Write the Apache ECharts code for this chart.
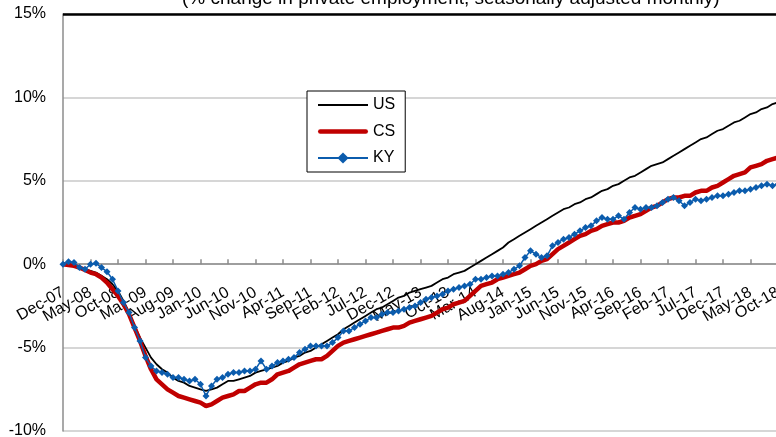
<!DOCTYPE html>
<html><head><meta charset="utf-8">
<script src="https://cdn.jsdelivr.net/npm/echarts@6/dist/echarts.min.js"></script>
<style>html,body{margin:0;padding:0;background:#fff}#c{width:776px;height:437px}</style>
</head><body><div id="c"></div>
<script>
const titleText = '(% change in private employment, seasonally adjusted monthly)';
const monthNames = ['Jan','Feb','Mar','Apr','May','Jun','Jul','Aug','Sep','Oct','Nov','Dec'];
// Dec-07 .. Dec-18 monthly
const categories = ['Dec-07'];
for (let y = 8; y <= 18; y++) {
  for (let m = 0; m < 12; m++) categories.push(monthNames[m] + '-' + (y < 10 ? '0' + y : y));
}
const labelEvery = 5;
const seriesNames = ['US', 'CS', 'KY'];
const usValues = [
  0.0, 0.0, -0.1, -0.2, -0.3, -0.4, -0.5, -0.7, -0.9, -1.2,
  -1.6, -2.2, -2.9, -3.7, -4.4, -5.0, -5.6, -6.0, -6.3, -6.5,
  -6.8, -7.0, -7.1, -7.3, -7.4, -7.5, -7.6, -7.5, -7.4, -7.2,
  -7.0, -7.0, -6.9, -6.8, -6.7, -6.5, -6.4, -6.3, -6.2, -6.1,
  -5.9, -5.8, -5.6, -5.5, -5.3, -5.2, -5.0, -4.8, -4.6, -4.4,
  -4.2, -3.9, -3.7, -3.5, -3.3, -3.1, -2.9, -2.7, -2.6, -2.4,
  -2.2, -2.0, -1.9, -1.7, -1.6, -1.5, -1.4, -1.3, -1.1, -0.9,
  -0.8, -0.6, -0.5, -0.4, -0.2, 0.0, 0.2, 0.4, 0.6, 0.8,
  1.0, 1.3, 1.5, 1.7, 1.9, 2.1, 2.3, 2.5, 2.7, 2.9,
  3.1, 3.3, 3.4, 3.6, 3.7, 3.9, 4.0, 4.2, 4.4, 4.5,
  4.7, 4.8, 5.0, 5.2, 5.3, 5.5, 5.7, 5.9, 6.0, 6.1,
  6.3, 6.5, 6.7, 6.9, 7.1, 7.3, 7.5, 7.6, 7.8, 8.0,
  8.1, 8.3, 8.5, 8.6, 8.8, 9.0, 9.1, 9.3, 9.4, 9.6,
  9.7, 9.8, 10.0
];
const csValues = [
  0.0, -0.05, -0.1, -0.2, -0.35, -0.5, -0.6, -0.8, -1.1, -1.5,
  -1.9, -2.4, -3.0, -3.8, -4.6, -5.5, -6.3, -6.9, -7.2, -7.5,
  -7.7, -7.9, -8.0, -8.1, -8.2, -8.3, -8.5, -8.4, -8.2, -8.0,
  -7.9, -7.8, -7.6, -7.6, -7.4, -7.2, -7.1, -7.1, -6.9, -6.6,
  -6.5, -6.4, -6.2, -6.0, -5.9, -5.8, -5.7, -5.7, -5.5, -5.2,
  -4.9, -4.7, -4.6, -4.5, -4.4, -4.3, -4.2, -4.1, -4.0, -3.9,
  -3.8, -3.8, -3.7, -3.5, -3.4, -3.3, -3.2, -3.1, -2.9, -2.7,
  -2.6, -2.4, -2.3, -2.2, -1.9, -1.6, -1.3, -1.2, -1.1, -0.9,
  -0.8, -0.7, -0.6, -0.5, -0.3, -0.1, 0.0, 0.2, 0.3, 0.6,
  0.9, 1.1, 1.3, 1.5, 1.7, 1.8, 2.0, 2.1, 2.3, 2.4,
  2.5, 2.5, 2.6, 2.8, 2.9, 3.0, 3.2, 3.4, 3.5, 3.7,
  3.9, 4.0, 4.0, 4.1, 4.1, 4.3, 4.4, 4.4, 4.6, 4.7,
  4.9, 5.1, 5.3, 5.4, 5.5, 5.8, 5.9, 6.0, 6.2, 6.3,
  6.4, 6.5, 6.6
];
const kyValues = [
  0.0, 0.15, 0.1, -0.2, -0.3, 0.0, 0.05, -0.2, -0.45, -0.9,
  -1.6, -2.3, -2.9, -3.8, -4.6, -5.6, -6.1, -6.4, -6.5, -6.6,
  -6.8, -6.8, -6.9, -7.0, -6.9, -7.2, -7.9, -7.3, -6.9, -6.8,
  -6.6, -6.5, -6.5, -6.4, -6.4, -6.3, -5.8, -6.3, -6.1, -5.9,
  -5.8, -5.7, -5.6, -5.3, -5.1, -4.9, -4.9, -4.9, -4.9, -4.7,
  -4.4, -4.0, -4.0, -3.8, -3.6, -3.4, -3.2, -3.2, -3.0, -2.9,
  -2.9, -2.8, -2.7, -2.6, -2.5, -2.3, -2.1, -2.0, -1.9, -1.8,
  -1.6, -1.5, -1.4, -1.3, -1.2, -0.9, -0.9, -0.8, -0.7, -0.7,
  -0.6, -0.5, -0.3, -0.1, 0.4, 0.8, 0.6, 0.4, 0.5, 1.1,
  1.3, 1.5, 1.6, 1.8, 2.0, 2.2, 2.3, 2.6, 2.8, 2.7,
  2.7, 2.9, 2.7, 3.1, 3.4, 3.3, 3.4, 3.4, 3.5, 3.7,
  3.9, 4.0, 3.8, 3.5, 3.7, 3.9, 3.8, 3.9, 4.0, 4.1,
  4.1, 4.2, 4.3, 4.4, 4.4, 4.5, 4.6, 4.7, 4.8, 4.7,
  4.8, 4.9, 4.9
];
const yMin = -10, yMax = 15, yStep = 5;

const FONT = 'Liberation Sans';
const GRID_TOP = 14, GRID_BOTTOM = 6, GRID_LEFT = 63, GRID_RIGHT = -13;
const H = 437;
const plotH = H - GRID_TOP - GRID_BOTTOM;
const zeroY = GRID_TOP + plotH * (yMax - 0) / (yMax - yMin);

const chart = echarts.init(document.getElementById('c'), null, {renderer: 'canvas'});
chart.setOption({
  animation: false,
  backgroundColor: '#fff',
  textStyle: {fontFamily: FONT},
  title: {
    text: titleText, left: 177, top: -16,
    textStyle: {fontFamily: FONT, fontSize: 19, fontWeight: 'normal', color: '#000'}
  },
  grid: [
    {left: GRID_LEFT, right: GRID_RIGHT, top: GRID_TOP, bottom: GRID_BOTTOM, containLabel: false, outerBoundsMode: 'none'},
    {left: GRID_LEFT, right: GRID_RIGHT, top: GRID_TOP, bottom: H - zeroY, containLabel: false, outerBoundsMode: 'none'}
  ],
  legend: {
    orient: 'vertical', left: 307, top: 91,
    data: [
      {name: seriesNames[0], icon: 'path://M0,0h50v1.8h-50z'},
      {name: seriesNames[1], icon: 'path://M2.25,0h45.5a2.25,2.25 0 0 1 0,4.5h-45.5a2.25,2.25 0 0 1 0,-4.5z'},
      {name: seriesNames[2]}
    ],
    itemWidth: 50, itemHeight: 14, itemGap: 10.5,
    padding: [6, 10, 6, 10],
    backgroundColor: '#fff', borderColor: '#000', borderWidth: 1, borderRadius: 0,
    textStyle: {fontFamily: FONT, fontSize: 16, color: '#000', lineHeight: 16}
  },
  xAxis: [
    {
      type: 'category', data: categories, boundaryGap: false, gridIndex: 0, show: false
    },
    {
      type: 'category', data: categories, boundaryGap: false, gridIndex: 1,
      axisLine: {onZero: false, lineStyle: {color: '#8c8c8c', width: 1.5}},
      axisTick: {show: true, inside: true, length: 5, interval: labelEvery - 1, lineStyle: {color: '#8c8c8c', width: 1.5}},
      axisLabel: {
        interval: 0, hideOverlap: false, rotate: 30, margin: 27,
        formatter: (v, i) => (i % labelEvery === 0 ? v : ''),
        color: '#000', fontFamily: FONT, fontSize: 16
      },
      splitLine: {show: false}, z: 1
    }
  ],
  yAxis: [
    {
      type: 'value', min: yMin, max: yMax, interval: yStep, gridIndex: 0,
      axisLine: {show: true, onZero: false, lineStyle: {color: '#8c8c8c', width: 1.5}},
      axisTick: {show: false},
      axisLabel: {formatter: v => v + '%', color: '#000', fontFamily: FONT, fontSize: 16, margin: 17},
      splitLine: {show: true, lineStyle: {color: '#c8c8c8', width: 1.5}}
    },
    {
      type: 'value', min: 0, max: 1, gridIndex: 1, show: false, splitLine: {show: false}
    }
  ],
  series: [
    {
      name: seriesNames[0], type: 'line', data: usValues, symbol: 'none',
      xAxisIndex: 0, yAxisIndex: 0,
      lineStyle: {color: '#000', width: 1.8}, itemStyle: {color: '#000'},
      markLine: {
        silent: true, symbol: 'none', label: {show: false},
        lineStyle: {color: '#000', width: 2.5, type: 'solid'},
        data: [{yAxis: yMax}]
      },
      z: 2
    },
    {
      name: seriesNames[1], type: 'line', data: csValues, symbol: 'none',
      xAxisIndex: 0, yAxisIndex: 0,
      lineStyle: {color: '#c00000', width: 4.5}, itemStyle: {color: '#c00000'}, z: 3
    },
    {
      name: seriesNames[2], type: 'line', data: kyValues, symbol: 'diamond', symbolSize: 7,
      xAxisIndex: 0, yAxisIndex: 0, showAllSymbol: true,
      lineStyle: {color: '#0b5cad', width: 1.5}, itemStyle: {color: '#0b5cad'}, z: 4
    }
  ]
});
</script></body></html>
